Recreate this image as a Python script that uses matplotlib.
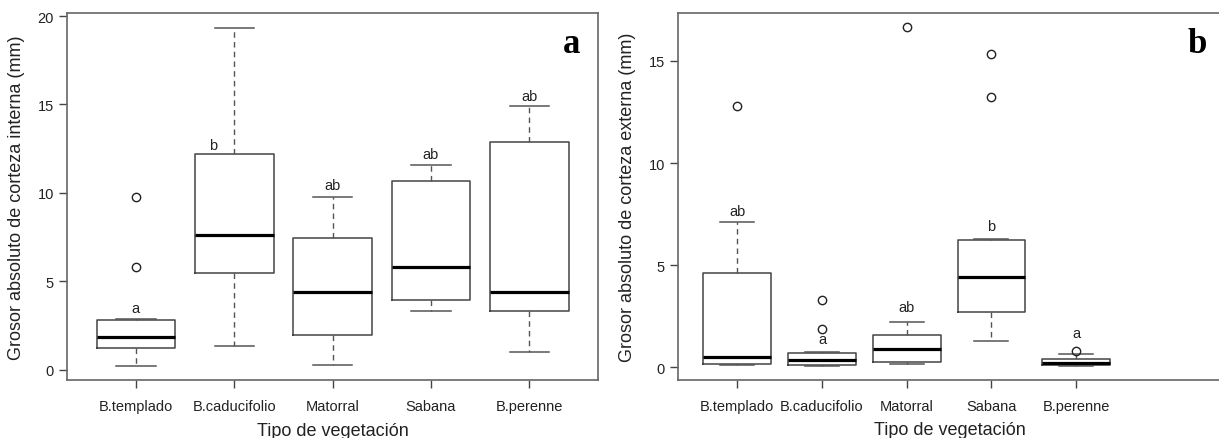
import matplotlib
matplotlib.use("Agg")
import matplotlib.pyplot as plt

plt.rcParams['font.family'] = ['Liberation Sans', 'DejaVu Sans']

categories = ["B.templado", "B.caducifolio", "Matorral", "Sabana", "B.perenne"]

# Panel a: corteza interna
int_whislo = [0.21, 1.37, 0.26, 3.32, 1.03]
int_q1 = [1.26, 5.48, 1.99, 3.94, 3.32]
int_med = [1.88, 7.61, 4.43, 5.82, 4.43]
int_q3 = [2.84, 12.19, 7.44, 10.69, 12.86]
int_whishi = [2.86, 19.34, 9.75, 11.59, 14.89]
int_fliers = [[9.75, 5.82], [], [], [], []]
int_letters = ["a", "b", "ab", "ab", "ab"]
int_letter_y = [3.49, 12.73, 10.44, 12.23, 15.46]
int_letter_x = [1, 1.79, 3, 4, 5]

# Panel b: corteza externa
ext_whislo = [0.10, 0.05, 0.18, 1.27, 0.06]
ext_q1 = [0.18, 0.11, 0.24, 2.69, 0.13]
ext_med = [0.52, 0.34, 0.90, 4.41, 0.21]
ext_q3 = [4.62, 0.72, 1.60, 6.25, 0.38]
ext_whishi = [7.12, 0.75, 2.22, 6.27, 0.64]
ext_fliers = [[12.8], [3.31, 1.86], [16.68], [15.34, 13.22], [0.82]]
ext_letters = ["ab", "a", "ab", "b", "a"]
ext_letter_y = [7.65, 1.40, 2.95, 6.94, 1.70]
ext_letter_x = [1, 2, 3, 4, 5]


def make_stats(lo, q1, med, q3, hi, fl):
    stats = []
    for i in range(len(lo)):
        stats.append({"whislo": lo[i], "q1": q1[i], "med": med[i], "q3": q3[i],
                      "whishi": hi[i], "fliers": fl[i]})
    return stats


def draw_panel(ax, stats, letters, lx, ly, ylabel, yticks, ylim, xlim, tag, tag_x):
    ax.bxp(stats, positions=range(1, 6), widths=0.8, capwidths=0.4,
           showfliers=True,
           boxprops=dict(color="#444444", lw=1.1),
           medianprops=dict(color="black", lw=2.3, solid_capstyle="butt"),
           whiskerprops=dict(color="#555555", lw=1.0, linestyle=(0, (4, 3))),
           capprops=dict(color="#555555", lw=1.1),
           flierprops=dict(marker="o", mfc="none", mec="#222222", ms=6, mew=1.0))
    for x, y, t in zip(lx, ly, letters):
        ax.text(x, y, t, ha="center", va="center", fontsize=10.5, color="#222222")
    ax.set_xlim(*xlim)
    ax.set_ylim(*ylim)
    ax.set_xticks(range(1, 6))
    ax.set_xticklabels(categories)
    ax.set_yticks(yticks)
    ax.tick_params(axis="both", direction="out", length=6, width=1.0,
                   color="#444444", labelsize=10.5, labelcolor="#222222")
    ax.tick_params(axis="x", pad=8)
    for sp in ax.spines.values():
        sp.set_color("#666666")
        sp.set_linewidth(1.2)
    ax.set_xlabel("Tipo de vegetación", fontsize=13, color="#222222", labelpad=6)
    ax.set_ylabel(ylabel, fontsize=13, color="#222222", labelpad=9)
    ax.text(tag_x, 0.894, tag, transform=ax.transAxes, ha="center", va="baseline",
            fontsize=25, fontweight="bold", family="Liberation Serif")


fig = plt.figure(figsize=(12.19, 4.39), dpi=100)
ax1 = fig.add_axes([0.0550, 0.1321, 0.4356, 0.8360])
ax2 = fig.add_axes([0.5562, 0.1328, 0.4454, 0.8353])

draw_panel(ax1, make_stats(int_whislo, int_q1, int_med, int_q3, int_whishi, int_fliers),
           int_letters, int_letter_x, int_letter_y,
           "Grosor absoluto de corteza interna (mm)", [0, 5, 10, 15, 20],
           (-0.57, 20.17), (0.3, 5.7), "a", 0.951)
draw_panel(ax2, make_stats(ext_whislo, ext_q1, ext_med, ext_q3, ext_whishi, ext_fliers),
           ext_letters, ext_letter_x, ext_letter_y,
           "Grosor absoluto de corteza externa (mm)", [0, 5, 10, 15],
           (-0.61, 17.35), (0.3, 6.71), "b", 0.956)

fig.savefig("out.png", dpi=100)
